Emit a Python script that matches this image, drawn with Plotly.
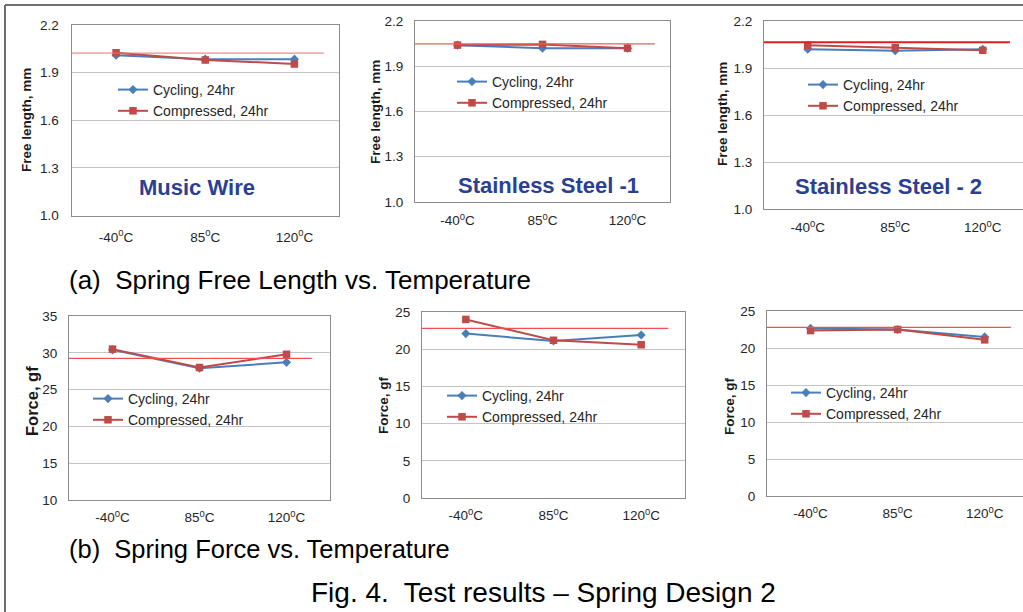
import plotly.graph_objects as go

W, H = 1023, 612

# ---------------- data ----------------
categories = ["-40°C", "85°C", "120°C"]
tick_labels = ["-40<sup>0</sup>C", "85<sup>0</sup>C", "120<sup>0</sup>C"]
series_names = ["Cycling, 24hr", "Compressed, 24hr"]

# Free length, mm
fl_cycling_mw = [2.010, 1.985, 1.985]
fl_compressed_mw = [2.025, 1.980, 1.955]
fl_cycling_ss1 = [2.040, 2.020, 2.020]
fl_compressed_ss1 = [2.040, 2.045, 2.020]
fl_cycling_ss2 = [2.020, 2.010, 2.020]
fl_compressed_ss2 = [2.045, 2.030, 2.013]
fl_reference = [2.023, 2.048, 2.064]

# Force, gf
f_cycling_mw = [30.4, 27.9, 28.7]
f_compressed_mw = [30.5, 28.0, 29.8]
f_cycling_ss1 = [22.1, 21.1, 21.9]
f_compressed_ss1 = [24.0, 21.2, 20.6]
f_cycling_ss2 = [22.65, 22.5, 21.5]
f_compressed_ss2 = [22.35, 22.5, 21.1]
f_reference = [29.25, 22.8, 22.8]

material_labels = ["Music Wire", "Stainless Steel -1", "Stainless Steel - 2"]
fl_ticks = [1.0, 1.3, 1.6, 1.9, 2.2]

# ---------------- layout helpers ----------------
BLUE = "#4A7EBB"
RED = "#BE4B48"
FONT = "Liberation Sans, Arial, sans-serif"
TXT = "#262626"

def fx(px):
    return px / W

def fy(py):
    return 1 - py / H

# panel pixel boxes: (left, right, top, bottom, xmax_range)
panels = [
    (71.5, 339, 25, 215.5, 2.5),
    (415, 670, 21, 202, 2.5),
    (764, 1023, 21, 209, 2.46),
    (69, 330, 316, 500, 2.5),
    (422, 685, 312, 498, 2.5),
    (767, 1023, 311, 496, 2.44),
]
x_standoff = [9, 6, 6, 5, 5, 5]
y_standoff = [9, 8, 8, 8, 8, 8]
ref_ends = [2.33, 2.32, 2.31, 2.29, 2.31, 2.30]
ref_styles = [
    ("rgb(240,110,110)", 1), ("rgb(240,90,90)", 1.2), ("rgb(225,30,30)", 2),
    ("rgb(240,80,80)", 1.2), ("rgb(240,80,80)", 1.2), ("rgb(240,80,80)", 1.2),
]
cyc_all = [fl_cycling_mw, fl_cycling_ss1, fl_cycling_ss2, f_cycling_mw, f_cycling_ss1, f_cycling_ss2]
cmp_all = [fl_compressed_mw, fl_compressed_ss1, fl_compressed_ss2, f_compressed_mw, f_compressed_ss1, f_compressed_ss2]
ref_all = fl_reference + f_reference
yranges = [[1.0, 2.2]] * 3 + [[10, 35], [0, 25], [0, 25]]
ytitles = ["Free length, mm"] * 3 + ["Force, gf"] * 3
ytitle_sizes = [13.5, 13.5, 13.5, 16.5, 13.5, 13.5]
ytitle_pos = [(27, 120), (375, 112), (722, 114), (32, 401), (383, 405), (729, 406)]
legend_text_pos = [(155, 90), (494, 82), (845, 85), (130, 399), (484, 396), (828, 393)]
label_pos = [(197, 187), (548, 185), (888, 186)]

fig = go.Figure()
layout = dict(
    width=W, height=H,
    margin=dict(l=0, r=0, t=0, b=0, pad=0, autoexpand=False),
    paper_bgcolor="white", plot_bgcolor="white",
    font=dict(family=FONT, color=TXT),
    showlegend=True,
)
shapes = []
annotations = []

for i in range(6):
    n = i + 1
    xa = "x" if n == 1 else f"x{n}"
    ya = "y" if n == 1 else f"y{n}"
    lg = "legend" if n == 1 else f"legend{n}"
    left, right, top, bottom, xmax = panels[i]

    fig.add_trace(go.Scatter(
        x=categories, y=cyc_all[i], mode="lines+markers", name=series_names[0],
        line=dict(color=BLUE, width=2), marker=dict(symbol="diamond", size=7, color=BLUE),
        xaxis=xa, yaxis=ya, legend=lg))
    fig.add_trace(go.Scatter(
        x=categories, y=cmp_all[i], mode="lines+markers", name=series_names[1],
        line=dict(color=RED, width=2), marker=dict(symbol="square", size=7.5, color=RED),
        xaxis=xa, yaxis=ya, legend=lg))

    key_x = "xaxis" if n == 1 else f"xaxis{n}"
    key_y = "yaxis" if n == 1 else f"yaxis{n}"
    layout[key_x] = dict(
        domain=[fx(left), min(1.0, fx(right))], anchor=ya, automargin=False,
        type="category", categoryorder="array", categoryarray=categories,
        range=[-0.5, xmax], tickvals=categories, ticktext=tick_labels,
        showgrid=False, showline=True, mirror=True, linecolor="#8C8C8C", linewidth=1,
        ticks="", ticklabelstandoff=x_standoff[i],
        tickfont=dict(size=13.5, color=TXT, family=FONT),
        fixedrange=True,
    )
    yr = yranges[i]
    ykw = dict(
        domain=[fy(bottom), fy(top)], anchor=xa, range=yr, automargin=False,
        showgrid=True, gridcolor="#C4C4C4", gridwidth=1, zeroline=False,
        showline=True, mirror=True, linecolor="#8C8C8C", linewidth=1,
        ticks="", ticklabelstandoff=y_standoff[i],
        tickfont=dict(size=13.5, color=TXT, family=FONT),
        fixedrange=True,
    )
    if i < 3:
        ykw.update(tickvals=fl_ticks, tickformat=".1f")
    else:
        ykw.update(dtick=5, tick0=0)
    layout[key_y] = ykw

    # reference line
    col, wd = ref_styles[i]
    shapes.append(dict(type="line", xref=xa, yref=ya, x0=-0.5, x1=ref_ends[i],
                       y0=ref_all[i], y1=ref_all[i], line=dict(color=col, width=wd)))

    # axis title
    tx, ty = ytitle_pos[i]
    annotations.append(dict(text=f"<b>{ytitles[i]}</b>", xref="paper", yref="paper",
                            x=fx(tx), y=fy(ty), showarrow=False, textangle=-90,
                            font=dict(size=ytitle_sizes[i], color="#1a1a1a", family=FONT),
                            xanchor="center", yanchor="middle"))

    # legend
    lx, ly = legend_text_pos[i]
    layout[lg] = dict(
        x=fx(lx - 42), y=fy(ly - 16), xanchor="left", yanchor="top",
        xref="paper", yref="paper",
        bgcolor="rgba(0,0,0,0)", borderwidth=0, itemwidth=30,
        font=dict(size=14, color=TXT, family=FONT), tracegroupgap=0,
    )

for i, (lx, ly) in enumerate(label_pos):
    annotations.append(dict(text=f"<b>{material_labels[i]}</b>", xref="paper", yref="paper",
                            x=fx(lx), y=fy(ly), showarrow=False,
                            font=dict(size=22, color="#2B3F93", family=FONT),
                            xanchor="center", yanchor="middle"))

annotations.append(dict(text="(a)  Spring Free Length vs. Temperature", xref="paper", yref="paper",
                        x=fx(67), y=fy(280), showarrow=False, xanchor="left", yanchor="middle",
                        font=dict(size=26, color="black", family=FONT)))
annotations.append(dict(text="(b)  Spring Force vs. Temperature", xref="paper", yref="paper",
                        x=fx(67), y=fy(549), showarrow=False, xanchor="left", yanchor="middle",
                        font=dict(size=25.5, color="black", family=FONT)))
annotations.append(dict(text="Fig. 4.  Test results – Spring Design 2", xref="paper", yref="paper",
                        x=fx(543), y=fy(592), showarrow=False, xanchor="center", yanchor="middle",
                        font=dict(size=28, color="black", family=FONT)))

# outer frame
shapes.append(dict(type="line", xref="paper", yref="paper", x0=fx(5), x1=fx(5), y0=0, y1=fy(5),
                   line=dict(color="#6E6E6E", width=2)))
shapes.append(dict(type="line", xref="paper", yref="paper", x0=fx(5), x1=1, y0=fy(5), y1=fy(5),
                   line=dict(color="#6E6E6E", width=2)))

layout["shapes"] = shapes
layout["annotations"] = annotations
fig.update_layout(**layout)

POST = (
    "var s='margin:0;padding:0;overflow:hidden;width:1023px;height:612px;';"
    "document.documentElement.style.cssText=s;document.body.style.cssText=s;"
)
fig.write_html("out.html", config={"displayModeBar": False}, post_script=POST)
